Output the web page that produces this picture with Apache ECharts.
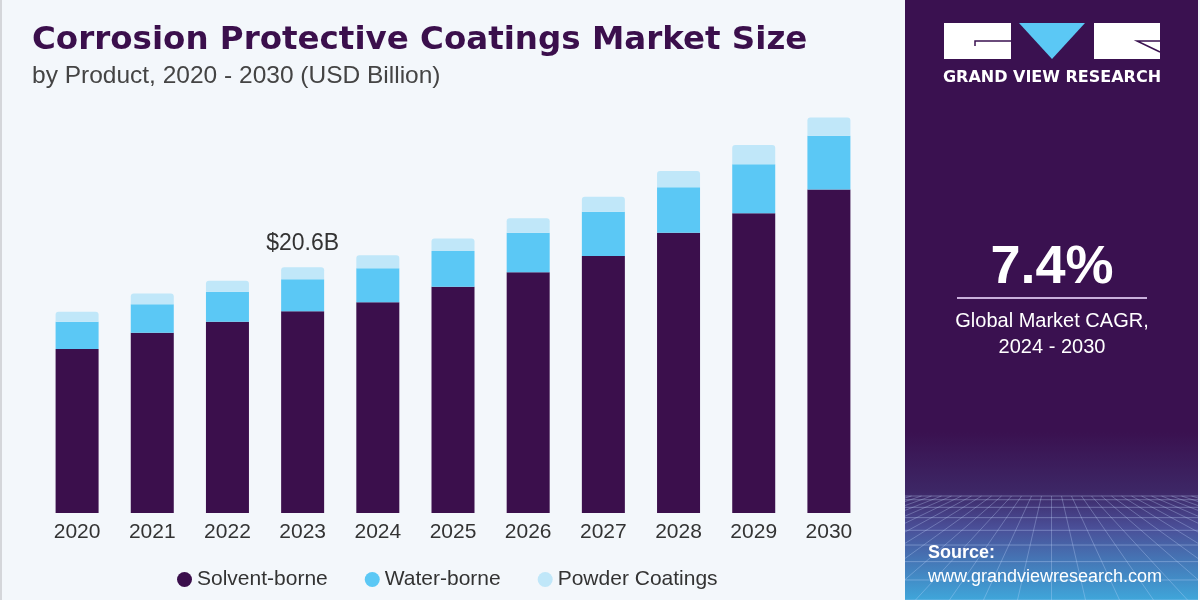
<!DOCTYPE html>
<html>
<head>
<meta charset="utf-8">
<script src="https://cdn.jsdelivr.net/npm/echarts@6/dist/echarts.min.js"></script>
<style>
html,body{margin:0;padding:0;background:#f3f7fb;}
#chart{width:1200px;height:600px;}
</style>
</head>
<body>
<div id="chart"></div>
<script>
const years = ['2020','2021','2022','2023','2024','2025','2026','2027','2028','2029','2030'];
const solventBorne = [13.75, 15.11, 16.04, 16.91, 17.66, 18.97, 20.18, 21.54, 23.50, 25.12, 27.13];
const waterBorne   = [2.29, 2.38, 2.51, 2.68, 2.85, 2.99, 3.32, 3.71, 3.81, 4.11, 4.49];
const powderCoatings = [0.84, 0.92, 0.92, 1.01, 1.09, 1.06, 1.21, 1.26, 1.37, 1.62, 1.54];
const seriesNames = ['Solvent-borne', 'Water-borne', 'Powder Coatings'];
const highlightIndex = 3;
const highlightLabel = '$20.6B';
const cagrText = '7.4%';

const chart = echarts.init(document.getElementById('chart'));

// decorative perspective grid in right panel (clipped to the panel)
const panelX = 905, panelW = 293;
const deco = [];
const horizonY = 496;
for (let i = 0; i < 9; i++) {
  const y = horizonY + Math.pow(i / 8, 1.6) * 104;
  deco.push({type:'line', shape:{x1:panelX, y1:y, x2:panelX+panelW, y2:y}, style:{stroke:'rgba(200,220,255,0.35)', lineWidth:1}, silent:true});
}
for (let i = -14; i <= 14; i++) {
  const cx = panelX + panelW/2;
  let x1 = cx + i*10, y1 = horizonY, x2 = cx + i*34, y2 = 600;
  const lo = panelX, hi = panelX + panelW;
  if (x1 < lo || x1 > hi) continue;
  if (x2 < lo || x2 > hi) {
    const bx = x2 < lo ? lo : hi;
    const t = (bx - x1) / (x2 - x1);
    y2 = y1 + t * (y2 - y1); x2 = bx;
  }
  deco.push({type:'line', shape:{x1:x1, y1:y1, x2:x2, y2:y2}, style:{stroke:'rgba(200,220,255,0.3)', lineWidth:1}, silent:true});
}

const option = {
  backgroundColor: '#f3f7fb',
  animation: false,
  grid: {left: 39.5, right: 333.5, top: 95.5, bottom: 87},
  xAxis: {
    type: 'category',
    data: years,
    axisLine: {show: false},
    axisTick: {show: false},
    axisLabel: {color: '#333', fontSize: 21, fontFamily: 'Liberation Sans', margin: 9}
  },
  yAxis: {type: 'value', min: 0, max: 35, show: false, splitLine: {show: false}},
  legend: {
    data: seriesNames,
    left: 172, top: 564,
    icon: 'circle', itemWidth: 15, itemHeight: 15, itemGap: 37,
    textStyle: {color: '#333', fontSize: 21, fontFamily: 'Liberation Sans'}
  },
  series: [
    {name: seriesNames[0], type: 'bar', stack: 'total', barWidth: 43, data: solventBorne,
     itemStyle: {color: '#3b0f4c'}},
    {name: seriesNames[1], type: 'bar', stack: 'total', barWidth: 43, data: waterBorne,
     itemStyle: {color: '#5bc8f5'}},
    {name: seriesNames[2], type: 'bar', stack: 'total', barWidth: 43,
     data: powderCoatings.map((v, i) => i === highlightIndex ? {value: v, label: {show: true, position: 'top', distance: 12, formatter: highlightLabel, color: '#333', fontSize: 23, fontFamily: 'Liberation Sans'}} : v),
     itemStyle: {color: '#c0e7f9', borderRadius: [3,3,0,0]}}
  ],
  graphic: [
    {type:'rect', shape:{x:0, y:0, width:2, height:600}, style:{fill:'#d4d6da'}, silent:true},
    {type:'text', x: 32, y: 41, style:{text:'Corrosion Protective Coatings Market Size', fill:'#3b0f4c', font:'bold 32.5px "DejaVu Sans"', textVerticalAlign:'middle'}},
    {type:'text', x: 32, y: 76, style:{text:'by Product, 2020 - 2030 (USD Billion)', fill:'#444', font:'24.5px "Liberation Sans"', textVerticalAlign:'middle'}},
    {type:'rect', shape:{x:panelX, y:0, width:panelW, height:600},
     style:{fill: new echarts.graphic.LinearGradient(0,0,0,1,[
       {offset:0, color:'#3a1150'}, {offset:0.72, color:'#3a1150'}, {offset:0.82, color:'#3d2766'},
       {offset:0.88, color:'#4a4f98'}, {offset:1, color:'#3fa6da'}])}, silent:true},
    ...deco,
    // logo
    {type:'rect', shape:{x:944, y:23, width:67, height:36}, style:{fill:'#ffffff'}},
    {type:'polyline', shape:{points:[[975,46],[975,41],[1011,41]]}, style:{stroke:'#3a1150', lineWidth:1.5, fill:null}},
    {type:'polygon', shape:{points:[[1019,23],[1085,23],[1052,59]]}, style:{fill:'#5bc8f5'}},
    {type:'rect', shape:{x:1094, y:23, width:66, height:36}, style:{fill:'#ffffff'}},
    {type:'polyline', shape:{points:[[1160,41],[1137,41],[1160,52]]}, style:{stroke:'#3a1150', lineWidth:1.5, fill:null}},
    {type:'text', x: 1052, y: 78, style:{text:'GRAND VIEW RESEARCH', fill:'#ffffff', font:'bold 16px "DejaVu Sans"', textAlign:'center', textVerticalAlign:'middle'}},
    // CAGR
    {type:'text', x: 1052, y: 268, style:{text:cagrText, fill:'#ffffff', font:'bold 54px "Liberation Sans"', textAlign:'center', textVerticalAlign:'middle'}},
    {type:'line', shape:{x1:957, y1:298, x2:1147, y2:298}, style:{stroke:'#c9b0dc', lineWidth:2}},
    {type:'text', x: 1052, y: 321, style:{text:'Global Market CAGR,', fill:'#ffffff', font:'20px "Liberation Sans"', textAlign:'center', textVerticalAlign:'middle'}},
    {type:'text', x: 1052, y: 347, style:{text:'2024 - 2030', fill:'#ffffff', font:'20px "Liberation Sans"', textAlign:'center', textVerticalAlign:'middle'}},
    // source
    {type:'text', x: 928, y: 553, style:{text:'Source:', fill:'#ffffff', font:'bold 18px "Liberation Sans"', textVerticalAlign:'middle'}},
    {type:'text', x: 928, y: 577, style:{text:'www.grandviewresearch.com', fill:'#ffffff', font:'18px "Liberation Sans"', textVerticalAlign:'middle'}}
  ]
};
chart.setOption(option);
</script>
</body>
</html>
